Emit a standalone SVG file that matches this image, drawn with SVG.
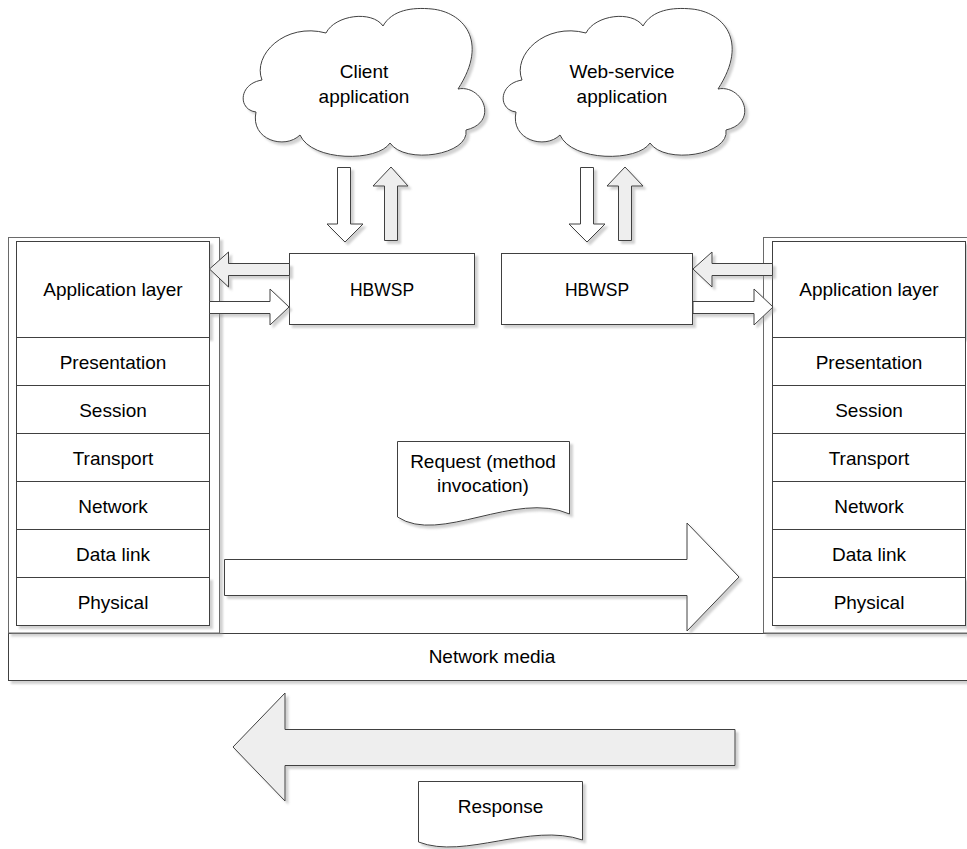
<svg xmlns="http://www.w3.org/2000/svg" width="967" height="849" viewBox="0 0 967 849">
  <defs>
    <filter id="shadow" x="-10%" y="-10%" width="130%" height="130%">
      <feDropShadow dx="3" dy="3" stdDeviation="0.8" flood-color="#9a9a9a" flood-opacity="0.45"/>
    </filter>
    <path id="cloud" d="M256,112 C238,110 238,84 262,80 C252,55 285,22 326,33 C335,15 372,10 383,26 C392,10 412,7 432,9 C462,12 490,40 458,89 C482,84 500,122 466,130 C470,155 405,165 390,143 C378,162 312,162 300,135 C285,150 250,140 256,112 Z"/>
  </defs>
  <style>
    .box { fill: #ffffff; stroke: #404040; stroke-width: 1; }
    .frame { fill: #ffffff; stroke: #6a6a6a; stroke-width: 1; }
    .white { fill: #ffffff; stroke: #404040; stroke-width: 1; stroke-linejoin: miter; }
    .grey { fill: #eeeeee; stroke: #404040; stroke-width: 1; stroke-linejoin: miter; }
    .sh { filter: url(#shadow); }
    text { font-family: "Liberation Sans", Arial, sans-serif; font-size: 19px; fill: #000000; text-anchor: middle; }
    .small { font-size: 17.5px; }
  </style>

  <!-- network media band -->
  <g id="network-media">
    <rect class="box sh" x="8.5" y="633.5" width="967" height="47"/>
    <text x="492" y="663">Network media</text>
  </g>

  <!-- left protocol stack -->
  <g id="left-stack">
    <rect class="frame sh" x="8.5" y="237.5" width="211" height="395.5"/>
    <rect class="box sh" x="16.5" y="241.5" width="193" height="96"/>
    <rect class="box" x="16.5" y="337.5" width="193" height="48"/>
    <rect class="box" x="16.5" y="385.5" width="193" height="48"/>
    <rect class="box" x="16.5" y="433.5" width="193" height="48"/>
    <rect class="box" x="16.5" y="481.5" width="193" height="48"/>
    <rect class="box" x="16.5" y="529.5" width="193" height="48"/>
    <rect class="box sh" x="16.5" y="577.5" width="193" height="48"/>
    <text x="113" y="296">Application layer</text>
    <text x="113" y="368.5">Presentation</text>
    <text x="113" y="416.5">Session</text>
    <text x="113" y="464.5">Transport</text>
    <text x="113" y="512.5">Network</text>
    <text x="113" y="560.5">Data link</text>
    <text x="113" y="608.5">Physical</text>
  </g>

  <!-- right protocol stack -->
  <g id="right-stack">
    <rect class="frame sh" x="763.5" y="237.5" width="220" height="395.5"/>
    <rect class="box sh" x="772.5" y="241.5" width="193" height="96"/>
    <rect class="box" x="772.5" y="337.5" width="193" height="48"/>
    <rect class="box" x="772.5" y="385.5" width="193" height="48"/>
    <rect class="box" x="772.5" y="433.5" width="193" height="48"/>
    <rect class="box" x="772.5" y="481.5" width="193" height="48"/>
    <rect class="box" x="772.5" y="529.5" width="193" height="48"/>
    <rect class="box sh" x="772.5" y="577.5" width="193" height="48"/>
    <text x="869" y="296">Application layer</text>
    <text x="869" y="368.5">Presentation</text>
    <text x="869" y="416.5">Session</text>
    <text x="869" y="464.5">Transport</text>
    <text x="869" y="512.5">Network</text>
    <text x="869" y="560.5">Data link</text>
    <text x="869" y="608.5">Physical</text>
  </g>

  <!-- clouds -->
  <g id="client-application">
    <use href="#cloud" class="box sh"/>
    <text x="364" y="78">Client</text>
    <text x="364" y="103">application</text>
  </g>
  <g id="web-service-application">
    <use href="#cloud" class="box sh" transform="translate(260,0)"/>
    <text x="622" y="78">Web-service</text>
    <text x="622" y="103">application</text>
  </g>

  <!-- HBWSP boxes -->
  <g id="hbwsp-client">
    <rect class="box sh" x="289.5" y="253.5" width="185" height="71"/>
    <text class="small" x="382" y="296">HBWSP</text>
  </g>
  <g id="hbwsp-service">
    <rect class="box sh" x="501.5" y="253.5" width="191" height="71"/>
    <text class="small" x="597" y="296">HBWSP</text>
  </g>

  <!-- messages -->
  <g id="request">
    <path class="box sh" d="M397.5,441.5 H569.5 V514 C515,490 440,545 397.5,517 Z"/>
    <text x="483" y="468">Request (method</text>
    <text x="483" y="492">invocation)</text>
  </g>
  <g id="response">
    <path class="box sh" d="M418.5,781.5 H582.5 V840 C530,822 465,860 418.5,842 Z"/>
    <text x="500.5" y="813">Response</text>
  </g>

  <!-- block-arrow connectors -->
  <g id="connectors">
    <!-- cloud <-> HBWSP (client side) -->
    <path class="white sh" d="M337.5,167.5 H350.5 V224 H363 L345,242 L327,224 H337.5 Z"/>
    <path class="grey sh" d="M391,167 L408,186 H397.5 V240.5 H384.5 V186 H373 Z"/>
    <!-- cloud <-> HBWSP (service side) -->
    <path class="white sh" d="M580.5,167.5 H593.5 V224 H605 L587,242 L569,224 H580.5 Z"/>
    <path class="grey sh" d="M625,167 L643,186 H631.5 V240.5 H618.5 V186 H607 Z"/>
    <!-- HBWSP <-> application layer (client side) -->
    <path class="grey sh" d="M209.5,269 L228.5,252 V263.5 H289.5 V275.5 H228.5 V287 Z"/>
    <path class="white sh" d="M209.5,301.5 H270 V289 L289,307 L270,325 V313.5 H209.5 Z"/>
    <!-- HBWSP <-> application layer (service side) -->
    <path class="grey sh" d="M693,269 L712,252 V263.5 H772.5 V275.5 H712 V287 Z"/>
    <path class="white sh" d="M693,301.5 H754 V289 L773,307 L754,325 V313.5 H693 Z"/>
    <!-- request flow -->
    <path class="white sh" d="M224.5,559.5 H687 V523 L739,577 L687,631 V595.5 H224.5 Z"/>
    <!-- response flow -->
    <path class="grey sh" d="M233,747 L285,693 V729.5 H735 V765.5 H285 V801 Z"/>
  </g>
</svg>
